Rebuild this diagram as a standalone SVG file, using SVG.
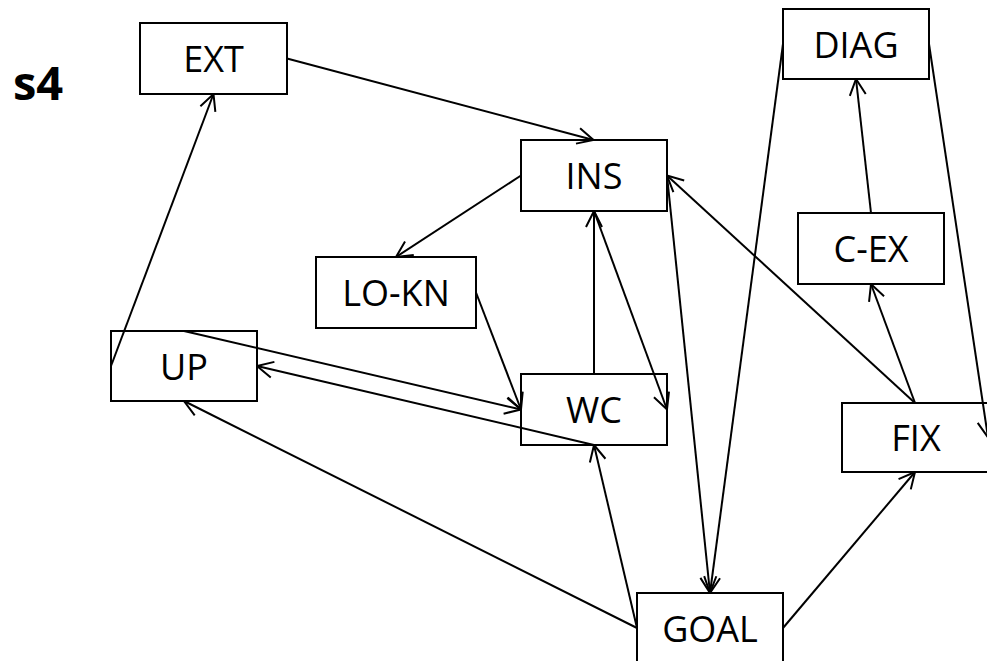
<svg xmlns="http://www.w3.org/2000/svg" width="987" height="661" viewBox="0 0 987 661">
<style>
.box{fill:#fff;stroke:#000;stroke-width:2}
.lbl{font-family:"Open Sans","Liberation Sans",sans-serif;font-size:36px;text-anchor:middle;fill:#000}
.edge{fill:none;stroke:#000;stroke-width:2;marker-end:url(#ah)}
</style>
<defs>
<marker id="ah" viewBox="0 0 20 20" refX="19" refY="10" markerWidth="20" markerHeight="20" markerUnits="userSpaceOnUse" orient="auto">
<path d="M3,2 L19,10 L3,18" fill="none" stroke="#000" stroke-width="2"/>
</marker>
</defs>
<rect width="987" height="661" fill="#fff"/>
<text x="13" y="100" font-family="'Open Sans','Liberation Sans',sans-serif" font-size="47" font-weight="700">s4</text>
<g id="EXT"><rect class="box" x="140" y="23" width="147" height="71"/><text class="lbl" x="213.5" y="72">EXT</text></g>
<g id="INS"><rect class="box" x="521" y="140" width="146" height="71"/><text class="lbl" x="594" y="189">INS</text></g>
<g id="LO-KN"><rect class="box" x="316" y="257" width="160" height="71"/><text class="lbl" x="396" y="306">LO-KN</text></g>
<g id="UP"><rect class="box" x="111" y="331" width="146" height="70"/><text class="lbl" x="184" y="379.5">UP</text></g>
<g id="WC"><rect class="box" x="521" y="374" width="146" height="71"/><text class="lbl" x="594" y="423">WC</text></g>
<g id="DIAG"><rect class="box" x="783" y="9" width="146" height="70"/><text class="lbl" x="856" y="57.5">DIAG</text></g>
<g id="C-EX"><rect class="box" x="798" y="213" width="146" height="71"/><text class="lbl" x="871" y="262">C-EX</text></g>
<g id="FIX"><rect class="box" x="842" y="403" width="146" height="69"/><text class="lbl" x="916" y="451">FIX</text></g>
<g id="GOAL"><rect class="box" x="637" y="593" width="146" height="70"/><text class="lbl" x="710" y="641.5">GOAL</text></g>
<g id="connectors">
<line class="edge" x1="287" y1="58.5" x2="593.5" y2="140"/>
<line class="edge" x1="111" y1="366" x2="213.5" y2="94"/>
<line class="edge" x1="521" y1="175.5" x2="396" y2="257"/>
<line class="edge" x1="476" y1="292.5" x2="521" y2="409.5"/>
<line class="edge" x1="184" y1="331" x2="521" y2="409.5"/>
<line class="edge" x1="594" y1="445" x2="257" y2="366"/>
<line class="edge" x1="594" y1="374" x2="594" y2="211"/>
<line class="edge" x1="594" y1="211" x2="667" y2="409.5"/>
<line class="edge" x1="667" y1="175.5" x2="710" y2="593"/>
<line class="edge" x1="915" y1="403" x2="667" y2="175.5"/>
<line class="edge" x1="915" y1="403" x2="871" y2="284"/>
<line class="edge" x1="871" y1="213" x2="856" y2="79"/>
<line class="edge" x1="783" y1="44" x2="710" y2="593"/>
<line class="edge" x1="929" y1="44" x2="988" y2="437.5"/>
<line class="edge" x1="637" y1="628" x2="594" y2="445"/>
<line class="edge" x1="637" y1="628" x2="184" y2="401"/>
<line class="edge" x1="783" y1="628" x2="915" y2="472"/>
</g>
</svg>
